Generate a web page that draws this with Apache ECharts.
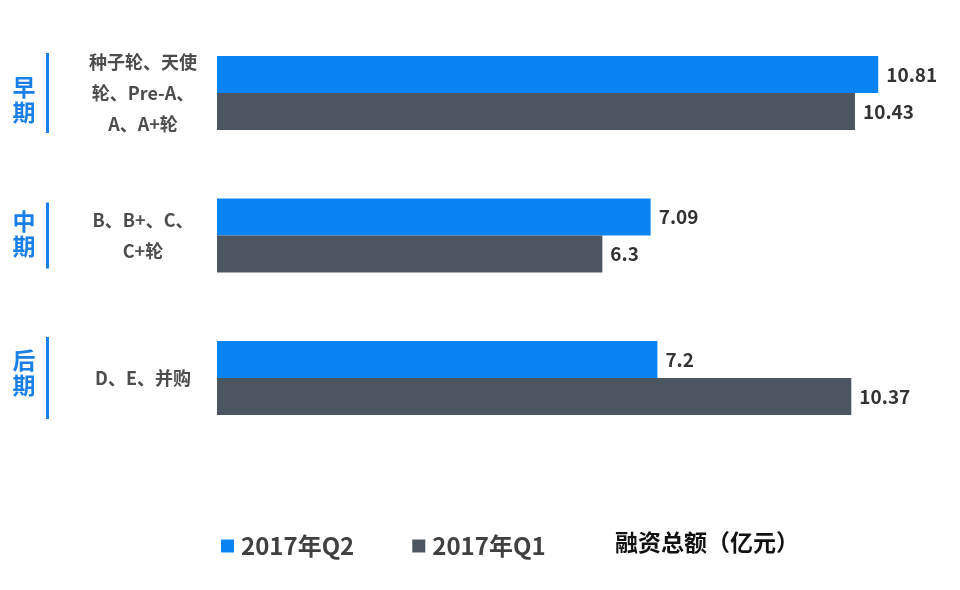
<!DOCTYPE html>
<html>
<head>
<meta charset="utf-8">
<script src="https://cdn.jsdelivr.net/npm/echarts@6/dist/echarts.min.js"></script>
<style>html,body{margin:0;padding:0;background:#fff}#c{width:960px;height:590px}</style>
</head>
<body>
<div id="c"></div>
<script>
var categories = ['种子轮、天使\n轮、Pre-A、\nA、A+轮', 'B、B+、C、\nC+轮', 'D、E、并购'];
var periods = ['早\n期', '中\n期', '后\n期'];
var seriesNames = ['2017年Q2', '2017年Q1'];
var q2Values = [10.81, 7.09, 7.2];
var q1Values = [10.43, 6.3, 10.37];
var unitTitle = '融资总额（亿元）';

var FONT = '"Noto Sans CJK SC", "Noto Sans", sans-serif';
var lineHalf = [40, 33, 41];
var periodShift = [7, -2, -5];

var chart = echarts.init(document.getElementById('c'));
var option = {
  backgroundColor: '#ffffff',
  animation: false,
  textStyle: { fontFamily: FONT },
  title: {
    text: unitTitle,
    left: 610, top: 526,
    textStyle: { fontSize: 23, fontWeight: 'bold', color: '#111', fontFamily: FONT }
  },
  legend: {
    left: 216, top: 529,
    itemWidth: 13, itemHeight: 13, itemGap: 58,
    icon: 'rect',
    textStyle: { fontSize: 24, fontWeight: 'bold', color: '#404040', fontFamily: FONT, padding: [0, 0, 0, 2] },
    data: seriesNames
  },
  grid: { left: 217, right: 9, top: 21.75, bottom: 140.75, containLabel: false },
  xAxis: {
    type: 'value', min: 0, max: 12,
    show: false
  },
  yAxis: {
    type: 'category', inverse: true,
    data: categories,
    axisLine: { show: false }, axisTick: { show: false },
    axisLabel: {
      margin: 74, align: 'center',
      fontSize: 18, fontWeight: 'bold', color: '#4d4d4d', lineHeight: 31, fontFamily: FONT
    }
  },
  series: [
    {
      name: seriesNames[0], type: 'bar', data: q2Values,
      barWidth: 37, barGap: '0%',
      itemStyle: { color: '#0a84f2' },
      label: { show: true, position: 'right', distance: 8, fontSize: 19, fontWeight: 'bold', color: '#333', fontFamily: FONT }
    },
    {
      name: seriesNames[1], type: 'bar', data: q1Values,
      barWidth: 37, barGap: '0%',
      itemStyle: { color: '#4b5661' },
      label: { show: true, position: 'right', distance: 8, fontSize: 19, fontWeight: 'bold', color: '#333', fontFamily: FONT }
    }
  ]
};
chart.setOption(option);

var g = [];
categories.forEach(function (c, i) {
  var y = chart.convertToPixel({ yAxisIndex: 0 }, i);
  g.push({
    type: 'rect', shape: { x: 46, y: y - lineHalf[i], width: 3, height: lineHalf[i] * 2 },
    style: { fill: '#1a7fe6' }
  });
  g.push({
    type: 'text', x: 24, y: y + periodShift[i],
    style: { text: periods[i], fill: '#1a7fe6', font: 'bold 23px ' + FONT, align: 'center', verticalAlign: 'middle', lineHeight: 25 }
  });
});
chart.setOption({ graphic: g });
</script>
</body>
</html>
